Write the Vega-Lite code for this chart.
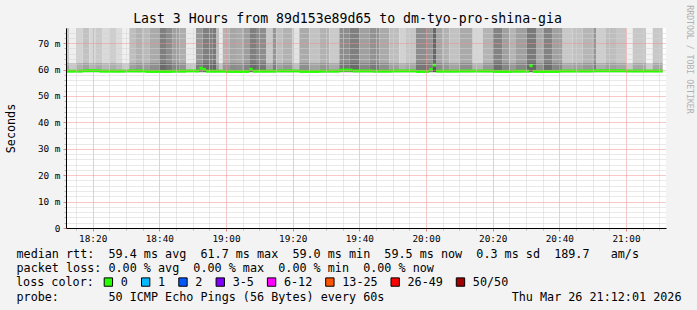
{
  "$schema": "https://vega.github.io/schema/vega-lite/v6.json",
  "width": 600,
  "height": 200,
  "autosize": "none",
  "padding": {"left": 66, "top": 28, "right": 31, "bottom": 82},
  "background": "#f3f3f3",
  "view": {"fill": "white", "stroke": null},
  "title": {
    "text": "Last 3 Hours from 89d153e89d65 to dm-tyo-pro-shina-gia",
    "font": "DejaVu Sans Mono",
    "fontSize": 13.2,
    "fontWeight": "normal",
    "color": "black",
    "anchor": "middle",
    "frame": "group",
    "dx": -18.5,
    "baseline": "alphabetic",
    "offset": -31
  },
  "datasets": {
    "smoke": [
      {"t0": "2026-03-26T18:12", "t1": "2026-03-26T18:13", "shade": 0.25},
      {"t0": "2026-03-26T18:13", "t1": "2026-03-26T18:15", "shade": 0.06},
      {"t0": "2026-03-26T18:15", "t1": "2026-03-26T18:17", "shade": 0.2},
      {"t0": "2026-03-26T18:17", "t1": "2026-03-26T18:19", "shade": 0.28},
      {"t0": "2026-03-26T18:19", "t1": "2026-03-26T18:21", "shade": 0.18},
      {"t0": "2026-03-26T18:21", "t1": "2026-03-26T18:23", "shade": 0.24},
      {"t0": "2026-03-26T18:23", "t1": "2026-03-26T18:25", "shade": 0.16},
      {"t0": "2026-03-26T18:25", "t1": "2026-03-26T18:27", "shade": 0.22},
      {"t0": "2026-03-26T18:27", "t1": "2026-03-26T18:29", "shade": 0.15},
      {"t0": "2026-03-26T18:29", "t1": "2026-03-26T18:31", "shade": 0.05},
      {"t0": "2026-03-26T18:31", "t1": "2026-03-26T18:33", "shade": 0.3},
      {"t0": "2026-03-26T18:33", "t1": "2026-03-26T18:35", "shade": 0.36},
      {"t0": "2026-03-26T18:35", "t1": "2026-03-26T18:37", "shade": 0.32},
      {"t0": "2026-03-26T18:37", "t1": "2026-03-26T18:40", "shade": 0.4},
      {"t0": "2026-03-26T18:40", "t1": "2026-03-26T18:42", "shade": 0.62},
      {"t0": "2026-03-26T18:42", "t1": "2026-03-26T18:44", "shade": 0.55},
      {"t0": "2026-03-26T18:44", "t1": "2026-03-26T18:46", "shade": 0.45},
      {"t0": "2026-03-26T18:46", "t1": "2026-03-26T18:48", "shade": 0.38},
      {"t0": "2026-03-26T18:48", "t1": "2026-03-26T18:51", "shade": 0.08},
      {"t0": "2026-03-26T18:51", "t1": "2026-03-26T18:53", "shade": 0.5},
      {"t0": "2026-03-26T18:53", "t1": "2026-03-26T18:56", "shade": 0.62},
      {"t0": "2026-03-26T18:56", "t1": "2026-03-26T18:57", "shade": 0.65},
      {"t0": "2026-03-26T18:57", "t1": "2026-03-26T18:58", "shade": 0.3},
      {"t0": "2026-03-26T18:58", "t1": "2026-03-26T18:59", "shade": 0.08},
      {"t0": "2026-03-26T18:59", "t1": "2026-03-26T19:01", "shade": 0.35},
      {"t0": "2026-03-26T19:01", "t1": "2026-03-26T19:03", "shade": 0.42},
      {"t0": "2026-03-26T19:03", "t1": "2026-03-26T19:05", "shade": 0.4},
      {"t0": "2026-03-26T19:05", "t1": "2026-03-26T19:07", "shade": 0.46},
      {"t0": "2026-03-26T19:07", "t1": "2026-03-26T19:09", "shade": 0.62},
      {"t0": "2026-03-26T19:09", "t1": "2026-03-26T19:12", "shade": 0.55},
      {"t0": "2026-03-26T19:12", "t1": "2026-03-26T19:14", "shade": 0.25},
      {"t0": "2026-03-26T19:14", "t1": "2026-03-26T19:15", "shade": 0.5},
      {"t0": "2026-03-26T19:15", "t1": "2026-03-26T19:17", "shade": 0.3},
      {"t0": "2026-03-26T19:17", "t1": "2026-03-26T19:20", "shade": 0.36},
      {"t0": "2026-03-26T19:20", "t1": "2026-03-26T19:22", "shade": 0.12},
      {"t0": "2026-03-26T19:22", "t1": "2026-03-26T19:25", "shade": 0.4},
      {"t0": "2026-03-26T19:25", "t1": "2026-03-26T19:28", "shade": 0.28},
      {"t0": "2026-03-26T19:28", "t1": "2026-03-26T19:31", "shade": 0.36},
      {"t0": "2026-03-26T19:31", "t1": "2026-03-26T19:34", "shade": 0.24},
      {"t0": "2026-03-26T19:34", "t1": "2026-03-26T19:37", "shade": 0.55},
      {"t0": "2026-03-26T19:37", "t1": "2026-03-26T19:40", "shade": 0.62},
      {"t0": "2026-03-26T19:40", "t1": "2026-03-26T19:43", "shade": 0.45},
      {"t0": "2026-03-26T19:43", "t1": "2026-03-26T19:46", "shade": 0.52},
      {"t0": "2026-03-26T19:46", "t1": "2026-03-26T19:49", "shade": 0.4},
      {"t0": "2026-03-26T19:49", "t1": "2026-03-26T19:52", "shade": 0.3},
      {"t0": "2026-03-26T19:52", "t1": "2026-03-26T19:54", "shade": 0.2},
      {"t0": "2026-03-26T19:54", "t1": "2026-03-26T19:57", "shade": 0.26},
      {"t0": "2026-03-26T19:57", "t1": "2026-03-26T20:00", "shade": 0.55},
      {"t0": "2026-03-26T20:00", "t1": "2026-03-26T20:02", "shade": 0.5},
      {"t0": "2026-03-26T20:02", "t1": "2026-03-26T20:03", "shade": 0.75},
      {"t0": "2026-03-26T20:03", "t1": "2026-03-26T20:05", "shade": 0.42},
      {"t0": "2026-03-26T20:05", "t1": "2026-03-26T20:07", "shade": 0.36},
      {"t0": "2026-03-26T20:07", "t1": "2026-03-26T20:10", "shade": 0.28},
      {"t0": "2026-03-26T20:10", "t1": "2026-03-26T20:14", "shade": 0.4},
      {"t0": "2026-03-26T20:14", "t1": "2026-03-26T20:17", "shade": 0.18},
      {"t0": "2026-03-26T20:17", "t1": "2026-03-26T20:20", "shade": 0.35},
      {"t0": "2026-03-26T20:20", "t1": "2026-03-26T20:23", "shade": 0.6},
      {"t0": "2026-03-26T20:23", "t1": "2026-03-26T20:25", "shade": 0.45},
      {"t0": "2026-03-26T20:25", "t1": "2026-03-26T20:27", "shade": 0.35},
      {"t0": "2026-03-26T20:27", "t1": "2026-03-26T20:30", "shade": 0.45},
      {"t0": "2026-03-26T20:30", "t1": "2026-03-26T20:33", "shade": 0.65},
      {"t0": "2026-03-26T20:33", "t1": "2026-03-26T20:35", "shade": 0.4},
      {"t0": "2026-03-26T20:35", "t1": "2026-03-26T20:38", "shade": 0.6},
      {"t0": "2026-03-26T20:38", "t1": "2026-03-26T20:41", "shade": 0.45},
      {"t0": "2026-03-26T20:41", "t1": "2026-03-26T20:44", "shade": 0.25},
      {"t0": "2026-03-26T20:44", "t1": "2026-03-26T20:47", "shade": 0.28},
      {"t0": "2026-03-26T20:47", "t1": "2026-03-26T20:50", "shade": 0.34},
      {"t0": "2026-03-26T20:50", "t1": "2026-03-26T20:51", "shade": 0.5},
      {"t0": "2026-03-26T20:51", "t1": "2026-03-26T20:54", "shade": 0.22},
      {"t0": "2026-03-26T20:54", "t1": "2026-03-26T20:57", "shade": 0.3},
      {"t0": "2026-03-26T20:57", "t1": "2026-03-26T21:00", "shade": 0.26},
      {"t0": "2026-03-26T21:00", "t1": "2026-03-26T21:02", "shade": 0.06},
      {"t0": "2026-03-26T21:02", "t1": "2026-03-26T21:06", "shade": 0.25},
      {"t0": "2026-03-26T21:06", "t1": "2026-03-26T21:08", "shade": 0.04},
      {"t0": "2026-03-26T21:08", "t1": "2026-03-26T21:11", "shade": 0.25}
    ],
    "median": [
      {"t0": "2026-03-26T18:12", "t1": "2026-03-26T18:17", "median": 59.4, "loss": "0"},
      {"t0": "2026-03-26T18:17", "t1": "2026-03-26T18:22", "median": 59.6, "loss": "0"},
      {"t0": "2026-03-26T18:22", "t1": "2026-03-26T18:30", "median": 59.4, "loss": "0"},
      {"t0": "2026-03-26T18:30", "t1": "2026-03-26T18:36", "median": 59.5, "loss": "0"},
      {"t0": "2026-03-26T18:36", "t1": "2026-03-26T18:44", "median": 59.3, "loss": "0"},
      {"t0": "2026-03-26T18:44", "t1": "2026-03-26T18:48", "median": 59.4, "loss": "0"},
      {"t0": "2026-03-26T18:48", "t1": "2026-03-26T18:52", "median": 59.5, "loss": "0"},
      {"t0": "2026-03-26T18:52", "t1": "2026-03-26T18:53", "median": 60.5, "loss": "0"},
      {"t0": "2026-03-26T18:53", "t1": "2026-03-26T18:54", "median": 60.1, "loss": "0"},
      {"t0": "2026-03-26T18:54", "t1": "2026-03-26T19:00", "median": 59.4, "loss": "0"},
      {"t0": "2026-03-26T19:00", "t1": "2026-03-26T19:07", "median": 59.3, "loss": "0"},
      {"t0": "2026-03-26T19:07", "t1": "2026-03-26T19:08", "median": 60.1, "loss": "0"},
      {"t0": "2026-03-26T19:08", "t1": "2026-03-26T19:15", "median": 59.4, "loss": "0"},
      {"t0": "2026-03-26T19:15", "t1": "2026-03-26T19:22", "median": 59.5, "loss": "0"},
      {"t0": "2026-03-26T19:22", "t1": "2026-03-26T19:28", "median": 59.3, "loss": "0"},
      {"t0": "2026-03-26T19:28", "t1": "2026-03-26T19:34", "median": 59.4, "loss": "0"},
      {"t0": "2026-03-26T19:34", "t1": "2026-03-26T19:38", "median": 59.8, "loss": "0"},
      {"t0": "2026-03-26T19:38", "t1": "2026-03-26T19:44", "median": 59.5, "loss": "0"},
      {"t0": "2026-03-26T19:44", "t1": "2026-03-26T19:50", "median": 59.4, "loss": "0"},
      {"t0": "2026-03-26T19:50", "t1": "2026-03-26T19:57", "median": 59.5, "loss": "0"},
      {"t0": "2026-03-26T19:57", "t1": "2026-03-26T20:01", "median": 59.3, "loss": "0"},
      {"t0": "2026-03-26T20:01", "t1": "2026-03-26T20:02", "median": 60.0, "loss": "0"},
      {"t0": "2026-03-26T20:02", "t1": "2026-03-26T20:03", "median": 61.7, "loss": "0"},
      {"t0": "2026-03-26T20:03", "t1": "2026-03-26T20:10", "median": 59.4, "loss": "0"},
      {"t0": "2026-03-26T20:10", "t1": "2026-03-26T20:20", "median": 59.5, "loss": "0"},
      {"t0": "2026-03-26T20:20", "t1": "2026-03-26T20:26", "median": 59.3, "loss": "0"},
      {"t0": "2026-03-26T20:26", "t1": "2026-03-26T20:31", "median": 59.4, "loss": "0"},
      {"t0": "2026-03-26T20:31", "t1": "2026-03-26T20:32", "median": 61.5, "loss": "0"},
      {"t0": "2026-03-26T20:32", "t1": "2026-03-26T20:40", "median": 59.3, "loss": "0"},
      {"t0": "2026-03-26T20:40", "t1": "2026-03-26T20:50", "median": 59.5, "loss": "0"},
      {"t0": "2026-03-26T20:50", "t1": "2026-03-26T21:00", "median": 59.6, "loss": "0"},
      {"t0": "2026-03-26T21:00", "t1": "2026-03-26T21:11", "median": 59.5, "loss": "0"}
    ]
  },
  "encoding": {
    "x": {
      "field": "t0", "type": "temporal",
      "scale": {"domain": [{"year": 2026, "month": 3, "date": 26, "hours": 18, "minutes": 12}, {"year": 2026, "month": 3, "date": 26, "hours": 21, "minutes": 12}]},
      "axis": {
        "values": [
          {"year": 2026, "month": 3, "date": 26, "hours": 18, "minutes": 15},
          {"year": 2026, "month": 3, "date": 26, "hours": 18, "minutes": 20},
          {"year": 2026, "month": 3, "date": 26, "hours": 18, "minutes": 25},
          {"year": 2026, "month": 3, "date": 26, "hours": 18, "minutes": 30},
          {"year": 2026, "month": 3, "date": 26, "hours": 18, "minutes": 35},
          {"year": 2026, "month": 3, "date": 26, "hours": 18, "minutes": 40},
          {"year": 2026, "month": 3, "date": 26, "hours": 18, "minutes": 45},
          {"year": 2026, "month": 3, "date": 26, "hours": 18, "minutes": 50},
          {"year": 2026, "month": 3, "date": 26, "hours": 18, "minutes": 55},
          {"year": 2026, "month": 3, "date": 26, "hours": 19, "minutes": 0},
          {"year": 2026, "month": 3, "date": 26, "hours": 19, "minutes": 5},
          {"year": 2026, "month": 3, "date": 26, "hours": 19, "minutes": 10},
          {"year": 2026, "month": 3, "date": 26, "hours": 19, "minutes": 15},
          {"year": 2026, "month": 3, "date": 26, "hours": 19, "minutes": 20},
          {"year": 2026, "month": 3, "date": 26, "hours": 19, "minutes": 25},
          {"year": 2026, "month": 3, "date": 26, "hours": 19, "minutes": 30},
          {"year": 2026, "month": 3, "date": 26, "hours": 19, "minutes": 35},
          {"year": 2026, "month": 3, "date": 26, "hours": 19, "minutes": 40},
          {"year": 2026, "month": 3, "date": 26, "hours": 19, "minutes": 45},
          {"year": 2026, "month": 3, "date": 26, "hours": 19, "minutes": 50},
          {"year": 2026, "month": 3, "date": 26, "hours": 19, "minutes": 55},
          {"year": 2026, "month": 3, "date": 26, "hours": 20, "minutes": 0},
          {"year": 2026, "month": 3, "date": 26, "hours": 20, "minutes": 5},
          {"year": 2026, "month": 3, "date": 26, "hours": 20, "minutes": 10},
          {"year": 2026, "month": 3, "date": 26, "hours": 20, "minutes": 15},
          {"year": 2026, "month": 3, "date": 26, "hours": 20, "minutes": 20},
          {"year": 2026, "month": 3, "date": 26, "hours": 20, "minutes": 25},
          {"year": 2026, "month": 3, "date": 26, "hours": 20, "minutes": 30},
          {"year": 2026, "month": 3, "date": 26, "hours": 20, "minutes": 35},
          {"year": 2026, "month": 3, "date": 26, "hours": 20, "minutes": 40},
          {"year": 2026, "month": 3, "date": 26, "hours": 20, "minutes": 45},
          {"year": 2026, "month": 3, "date": 26, "hours": 20, "minutes": 50},
          {"year": 2026, "month": 3, "date": 26, "hours": 20, "minutes": 55},
          {"year": 2026, "month": 3, "date": 26, "hours": 21, "minutes": 0},
          {"year": 2026, "month": 3, "date": 26, "hours": 21, "minutes": 5},
          {"year": 2026, "month": 3, "date": 26, "hours": 21, "minutes": 10}
        ],
        "labelExpr": "minutes(datum.value) % 20 === 0 ? timeFormat(datum.value, '%H:%M') : ''",
        "labelOverlap": false,
        "grid": true,
        "gridColor": {"condition": {"test": "minutes(datum.value) % 20 === 0", "value": "#f09090"}, "value": "#d2d2d2"},
        "gridDash": [1, 1], "gridWidth": 1,
        "labelPadding": 3, "labelFlush": false,
        "ticks": true,
        "tickSize": {"condition": {"test": "minutes(datum.value) % 20 === 0", "value": 3}, "value": 2},
        "tickColor": {"condition": {"test": "minutes(datum.value) % 20 === 0", "value": "#e08080"}, "value": "#b8b8b8"},
        "domain": true, "domainColor": "black", "domainWidth": 1, "zindex": 1,
        "title": [
          "median\u00a0rtt:\u00a0\u00a059.4\u00a0ms\u00a0avg\u00a0\u00a061.7\u00a0ms\u00a0max\u00a0\u00a059.0\u00a0ms\u00a0min\u00a0\u00a059.5\u00a0ms\u00a0now\u00a0\u00a00.3\u00a0ms\u00a0sd\u00a0\u00a0189.7\u00a0\u00a0\u00a0am/s",
          "packet\u00a0loss:\u00a00.00\u00a0%\u00a0avg\u00a0\u00a00.00\u00a0%\u00a0max\u00a0\u00a00.00\u00a0%\u00a0min\u00a0\u00a00.00\u00a0%\u00a0now",
          "\u2800",
          "probe:\u00a0\u00a0\u00a0\u00a0\u00a0\u00a0\u00a050\u00a0ICMP\u00a0Echo\u00a0Pings\u00a0(56\u00a0Bytes)\u00a0every\u00a060s\u00a0\u00a0\u00a0\u00a0\u00a0\u00a0\u00a0\u00a0\u00a0\u00a0\u00a0\u00a0\u00a0\u00a0\u00a0\u00a0\u00a0\u00a0Thu\u00a0Mar\u00a026\u00a021:12:01\u00a02026"
        ],
        "titleX": -50, "titleY": 20.7, "titleAlign": "left", "titleBaseline": "top", "titleLineHeight": 14.3
      }
    }
  },
  "layer": [
    {
      "data": {"name": "smoke"},
      "mark": {"type": "rect", "clip": true},
      "encoding": {
        "x2": {"field": "t1"},
        "y": {
          "datum": 59.0, "type": "quantitative",
          "scale": {"domain": [0, 75.75], "nice": false, "zero": false},
          "axis": null
        },
        "y2": {"datum": 75.75},
        "fill": {"field": "shade", "type": "quantitative", "scale": {"domain": [0, 1], "range": ["#fcfcfc", "#3c3c3c"]}, "legend": null}
      }
    },
    {
      "data": {"name": "smoke"},
      "mark": {"type": "rect", "clip": true, "color": "black", "opacity": 0.16},
      "encoding": {
        "x2": {"field": "t1"},
        "y": {"datum": 59.0, "type": "quantitative", "axis": null},
        "y2": {"datum": 62.5}
      }
    },
    {
      "data": {"name": "median"},
      "mark": {"type": "rule", "strokeWidth": 3, "strokeCap": "butt", "color": "#26ff00"},
      "encoding": {
        "x2": {"field": "t1"},
        "y": {
          "field": "median", "type": "quantitative",
          "axis": {
            "orient": "left",
            "values": [0, 2, 4, 6, 8, 10, 12, 14, 16, 18, 20, 22, 24, 26, 28, 30, 32, 34, 36, 38, 40, 42, 44, 46, 48, 50, 52, 54, 56, 58, 60, 62, 64, 66, 68, 70, 72, 74],
            "labelExpr": "datum.value % 10 !== 0 ? '' : (datum.value === 0 ? '0' : datum.value + ' m')",
            "labelOverlap": false,
            "grid": true,
            "gridColor": {"condition": {"test": "datum.value % 10 === 0", "value": "#f09090"}, "value": "#d2d2d2"},
            "gridDash": [1, 1], "gridWidth": 1,
            "labelPadding": 3, "labelFlush": false,
            "ticks": true,
            "tickSize": {"condition": {"test": "datum.value % 10 === 0", "value": 3}, "value": 2},
            "tickColor": {"condition": {"test": "datum.value % 10 === 0", "value": "#e08080"}, "value": "#b8b8b8"},
            "domain": true, "domainColor": "black", "domainWidth": 1, "zindex": 1,
            "title": "Seconds",
            "titleX": -56, "titleY": 100, "titleAlign": "center", "titleBaseline": "middle", "titleAngle": -90
          }
        }
      }
    },
    {
      "data": {"name": "median"},
      "mark": {"type": "square", "size": 0},
      "encoding": {
        "y": {
          "field": "median", "type": "quantitative",
          "axis": {
            "orient": "right", "grid": false, "labels": false, "ticks": false, "domain": false,
            "title": "RRDTOOL / TOBI OETIKER", "titleColor": "#b0b0b0", "titleFontSize": 8.2,
            "titleX": 22.5, "titleY": 31, "titleAngle": 90, "titleAlign": "center", "titleBaseline": "middle"
          }
        },
        "color": {
          "field": "loss", "type": "nominal",
          "scale": {"domain": ["0", "1", "2", "3-5", "6-12", "13-25", "26-49", "50/50"], "range": ["#26ff00", "#00b8ff", "#0059ff", "#7e00ff", "#ff00ff", "#ff5500", "#ff0000", "#a10000"]},
          "legend": {
            "orient": "none", "legendX": -50, "legendY": 248, "direction": "horizontal",
            "title": "loss color:", "titleOrient": "left", "titlePadding": 8.5,
            "symbolType": "square", "symbolSize": 70, "symbolStrokeColor": "black", "symbolStrokeWidth": 1, "symbolOpacity": 1,
            "labelOffset": 6.5, "columnPadding": 10.3, "padding": 0
          }
        }
      }
    },
    {
      "data": {"values": [{"arrow": "time"}]},
      "mark": {"type": "point", "shape": "triangle-right", "filled": true, "size": 30, "color": "#9a1c1c", "opacity": 1},
      "encoding": {
        "x": {"datum": {"year": 2026, "month": 3, "date": 26, "hours": 21, "minutes": 13, "seconds": 21}, "type": "temporal"},
        "y": {"datum": 0, "type": "quantitative", "axis": null}
      }
    },
    {
      "data": {"values": [{"arrow": "value"}]},
      "mark": {"type": "point", "shape": "triangle-up", "filled": true, "size": 30, "color": "#9a1c1c", "opacity": 1},
      "encoding": {
        "x": {"datum": {"year": 2026, "month": 3, "date": 26, "hours": 18, "minutes": 12}, "type": "temporal"},
        "y": {"datum": 77.26, "type": "quantitative", "axis": null}
      }
    }
  ],
  "resolve": {"axis": {"y": "independent"}},
  "config": {
    "font": "DejaVu Sans Mono",
    "axis": {
      "labelFont": "DejaVu Sans Mono", "labelFontSize": 9.4, "labelColor": "black",
      "titleFont": "DejaVu Sans Mono", "titleFontSize": 11.75, "titleFontWeight": "normal", "titleColor": "black", "titleLimit": 2000
    },
    "legend": {
      "labelFont": "DejaVu Sans Mono", "labelFontSize": 11.75, "labelColor": "black", "labelLimit": 0,
      "titleFont": "DejaVu Sans Mono", "titleFontSize": 11.75, "titleFontWeight": "normal", "titleColor": "black", "titleLimit": 2000
    }
  }
}
